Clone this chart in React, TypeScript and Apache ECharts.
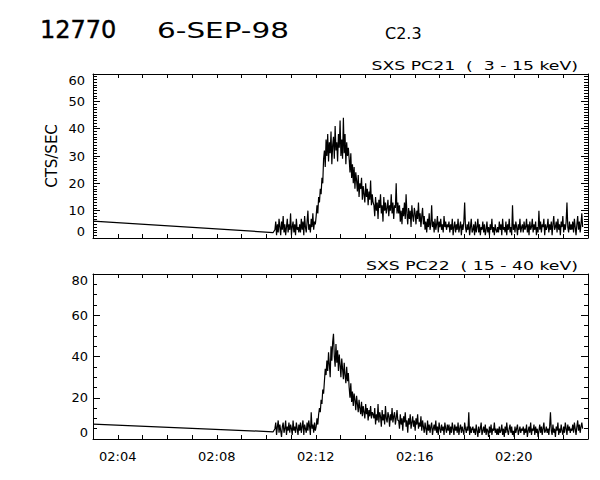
import React, { useEffect, useRef } from "react";
import * as echarts from "echarts";

// ---- texts ----
const headTitle = "12770";
const dateTitle = "6-SEP-98";
const classTitle = "C2.3";
const topPanelTitle = "SXS PC21  (  3 - 15 keV)";
const bottomPanelTitle = "SXS PC22  ( 15 - 40 keV)";
const yAxisTitle = "CTS/SEC";

// ---- time axis (minutes after 02:00) ----
const xMinMinute = 3;
const xMaxMinute = 23;
const xLabelMinutes = [4, 8, 12, 16, 20];
const xLabelTexts = ["02:04", "02:08", "02:12", "02:16", "02:20"];

// ---- y axes ----
const topYMax = 60;
const topYStep = 10;
const bottomYMax = 80;
const bottomYStep = 20;

// ---- data: leading points (before data gap) ----
const leadTimes = [3.0, 10.28];
const pc21Lead = [6.2, 2.0];
const pc22Lead = [7.2, 3.5];

// ---- sampled data: start minute and cadence (2 s, in minutes) ----
const sampleStart = 10.35;
const sampleStep = 2 / 60;

// SXS PC21 (3 - 15 keV), counts/s, one row per minute
const pc21 = [
  3, 6, 1, 5, 2, 7, 4, 1, 6, 3, 8, 2, 5, 1, 4, 7, 2, 5, 3, 9, 1, 4, 6, 2, 5, 1, 7, 3, 4, 2,
  5, 2, 7, 3, 6, 1, 8, 4, 2, 6, 10, 3, 5, 2, 7, 4, 9, 3, 6, 5, 8, 12, 9, 15, 13, 18, 16, 22, 20, 29,
  32, 26, 36, 30, 38, 28, 35, 31, 39, 27, 34, 37, 29, 41, 32, 35, 28, 38, 33, 43, 30, 36, 29, 44, 31, 38, 27, 35, 30, 33,
  29, 24, 31, 22, 27, 20, 26, 18, 24, 21, 17, 23, 15, 20, 18, 22, 14, 19, 16, 13, 20, 15, 18, 12, 17, 14, 21, 12, 16, 13,
  12, 8, 15, 10, 13, 7, 14, 11, 16, 9, 12, 6, 15, 10, 13, 9, 11, 14, 8, 12, 10, 16, 9, 13, 7, 12, 11, 20, 9, 13,
  9, 12, 6, 10, 5, 11, 8, 13, 7, 16, 9, 5, 11, 7, 10, 4, 12, 8, 6, 11, 9, 5, 10, 7, 13, 6, 9, 4, 8, 11,
  5, 8, 3, 6, 2, 7, 4, 9, 3, 5, 12, 4, 6, 2, 7, 3, 5, 8, 2, 6, 4, 7, 3, 5, 2, 8, 4, 6, 3, 5,
  4, 6, 2, 5, 3, 7, 1, 4, 6, 2, 5, 3, 7, 2, 4, 6, 1, 5, 3, 6, 13, 4, 2, 5, 3, 6, 1, 4, 7, 2,
  3, 5, 1, 6, 2, 4, 7, 2, 5, 1, 4, 3, 6, 2, 5, 1, 3, 6, 2, 4, 1, 5, 3, 7, 2, 4, 1, 5, 3, 2,
  4, 2, 6, 3, 5, 1, 7, 3, 4, 2, 6, 1, 5, 3, 7, 2, 4, 1, 12, 3, 5, 2, 6, 4, 1, 5, 3, 7, 2, 4,
  5, 2, 6, 3, 4, 7, 2, 5, 1, 6, 3, 4, 7, 2, 5, 3, 6, 1, 4, 2, 10, 3, 6, 2, 5, 4, 7, 1, 5, 3,
  4, 7, 2, 5, 3, 6, 1, 5, 8, 3, 4, 6, 2, 7, 3, 5, 1, 6, 4, 8, 2, 5, 3, 6, 13, 4, 2, 6, 3, 5,
  3, 6, 2, 7, 4, 1, 5, 8, 3, 6, 2, 5, 9, 4,
];

// SXS PC22 (15 - 40 keV), counts/s, one row per minute
const pc22 = [
  5, 8, 2, 6, 9, 3, 7, 4, 1, 6, 8, 3, 5, 9, 2, 6, 4, 8, 3, 7, 5, 2, 9, 4, 6, 3, 8, 5, 2, 7,
  4, 8, 3, 6, 9, 2, 7, 5, 3, 8, 4, 9, 6, 2, 13, 5, 7, 3, 8, 4, 6, 10, 7, 12, 15, 13, 19, 17, 24, 22,
  28, 34, 31, 38, 33, 42, 36, 30, 45, 38, 47, 51, 40, 35, 46, 37, 43, 33, 41, 36, 30, 39, 34, 29, 37, 31, 27, 35, 28, 32,
  25, 20, 27, 18, 23, 16, 22, 19, 14, 21, 17, 13, 19, 15, 12, 18, 11, 16, 13, 10, 17, 12, 15, 9, 14, 11, 16, 10, 13, 12,
  10, 15, 7, 12, 9, 17, 8, 13, 11, 6, 14, 9, 12, 7, 16, 10, 8, 13, 11, 6, 12, 9, 15, 8, 11, 13, 7, 10, 14, 9,
  9, 5, 12, 7, 10, 4, 11, 8, 13, 6, 9, 3, 10, 7, 12, 5, 8, 11, 6, 9, 4, 10, 7, 12, 5, 8, 6, 11, 4, 9,
  6, 3, 8, 5, 2, 9, 4, 7, 3, 6, 8, 2, 5, 7, 4, 9, 3, 6, 2, 8, 5, 3, 7, 4, 6, 2, 8, 5, 3, 7,
  4, 7, 2, 6, 3, 8, 5, 2, 7, 4, 6, 3, 8, 2, 5, 7, 3, 6, 4, 2, 8, 5, 3, 6, 4, 13, 2, 6, 3, 5,
  6, 3, 5, 2, 7, 4, 1, 6, 3, 5, 8, 2, 4, 6, 3, 7, 2, 5, 4, 1, 6, 3, 7, 2, 5, 4, 8, 3, 5, 2,
  5, 2, 6, 3, 4, 7, 2, 5, 1, 6, 3, 8, 4, 2, 5, 7, 3, 6, 2, 4, 1, 6, 3, 5, 7, 2, 4, 6, 3, 5,
  4, 6, 2, 5, 3, 7, 1, 4, 6, 3, 8, 2, 5, 4, 7, 2, 6, 3, 5, 1, 4, 7, 3, 6, 2, 5, 8, 3, 4, 6,
  3, 5, 2, 6, 13, 4, 2, 7, 3, 5, 1, 6, 4, 8, 2, 5, 3, 7, 4, 2, 6, 3, 8, 5, 2, 7, 4, 6, 3, 5,
  4, 7, 3, 8, 5, 2, 6, 9, 4, 7, 3, 6, 8, 5,
];

const FONT = "DejaVu Sans";
const INK = "#000000";

function buildSeries(lead: number[], values: number[]): number[][] {
  const out: number[][] = leadTimes.map((t, i) => [t, lead[i]]);
  values.forEach((v, i) => out.push([sampleStart + i * sampleStep, v]));
  return out;
}

function xAxisDef(gridIndex: number, position: "top" | "bottom", labels: boolean) {
  return {
    type: "value",
    gridIndex,
    position,
    min: xMinMinute,
    max: xMaxMinute,
    interval: 1,
    axisLine: { show: true, onZero: false, lineStyle: { color: INK, width: 1 } },
    axisTick: { show: true, inside: true, length: 4, lineStyle: { color: INK, width: 1 } },
    splitLine: { show: false },
    axisLabel: {
      show: labels,
      margin: 11,
      fontFamily: FONT,
      fontSize: 13,
      color: INK,
      formatter: (v: number) => {
        const k = xLabelMinutes.findIndex((m) => Math.abs(m - v) < 1e-6);
        return k >= 0 ? xLabelTexts[k] : "";
      },
    },
  };
}

function yAxisDef(
  gridIndex: number,
  position: "left" | "right",
  max: number,
  step: number,
  minorSplit: number,
  labels: boolean,
  margin: number
) {
  return {
    type: "value",
    gridIndex,
    position,
    min: 0,
    max,
    interval: step,
    axisLine: { show: true, onZero: false, lineStyle: { color: INK, width: 1 } },
    axisTick: { show: true, inside: true, length: 7, lineStyle: { color: INK, width: 1 } },
    minorTick: { show: true, splitNumber: minorSplit, length: 4, lineStyle: { color: INK, width: 1 } },
    splitLine: { show: false },
    minorSplitLine: { show: false },
    axisLabel: {
      show: labels,
      margin,
      fontFamily: FONT,
      fontSize: 13,
      color: INK,
      verticalAlignMinLabel: "bottom",
      verticalAlignMaxLabel: "top",
    },
  };
}

export default function App() {
  const ref = useRef<HTMLDivElement>(null);

  useEffect(() => {
    if (!ref.current) return;
    const chart = echarts.init(ref.current, undefined, { renderer: "svg" });

    const option: any = {
      animation: false,
      backgroundColor: "#ffffff",
      grid: [
        { left: 93, right: 12, top: 74, height: 164 },
        { left: 93, right: 12, top: 274, height: 165 },
      ],
      xAxis: [
        xAxisDef(0, "bottom", false),
        xAxisDef(0, "top", false),
        xAxisDef(1, "bottom", true),
        xAxisDef(1, "top", false),
      ],
      yAxis: [
        yAxisDef(0, "left", topYMax, topYStep, 10, true, 8),
        yAxisDef(0, "right", topYMax, topYStep, 10, false, 8),
        yAxisDef(1, "left", bottomYMax, bottomYStep, 4, true, 5),
        yAxisDef(1, "right", bottomYMax, bottomYStep, 4, false, 5),
      ],
      series: [
        {
          type: "line",
          xAxisIndex: 0,
          yAxisIndex: 0,
          data: buildSeries(pc21Lead, pc21),
          showSymbol: false,
          symbol: "none",
          silent: true,
          lineStyle: { color: INK, width: 1.2 },
        },
        {
          type: "line",
          xAxisIndex: 2,
          yAxisIndex: 2,
          data: buildSeries(pc22Lead, pc22),
          showSymbol: false,
          symbol: "none",
          silent: true,
          lineStyle: { color: INK, width: 1.2 },
        },
      ],
      graphic: [
        {
          type: "text",
          x: 40,
          y: 30,
          style: { text: headTitle, fill: INK, stroke: INK, lineWidth: 0.4, font: `24px '${FONT}'`, textAlign: "left", textVerticalAlign: "middle" },
        },
        {
          type: "text",
          x: 157,
          y: 30,
          scaleX: 1.34,
          style: { text: dateTitle, fill: INK, font: `22px '${FONT}'`, textAlign: "left", textVerticalAlign: "middle" },
        },
        {
          type: "text",
          x: 385,
          y: 33,
          style: { text: classTitle, fill: INK, font: `16px '${FONT}'`, textAlign: "left", textVerticalAlign: "middle" },
        },
        {
          type: "text",
          x: 578,
          y: 66,
          scaleX: 1.44,
          style: { text: topPanelTitle, fill: INK, font: `12px '${FONT}'`, textAlign: "right", textVerticalAlign: "middle" },
        },
        {
          type: "text",
          x: 578,
          y: 266,
          scaleX: 1.44,
          style: { text: bottomPanelTitle, fill: INK, font: `12px '${FONT}'`, textAlign: "right", textVerticalAlign: "middle" },
        },
        {
          type: "text",
          x: 52,
          y: 156,
          rotation: Math.PI / 2,
          style: { text: yAxisTitle, fill: INK, font: `15px '${FONT}'`, textAlign: "center", textVerticalAlign: "middle" },
        },
      ],
    };

    chart.setOption(option);
    return () => chart.dispose();
  }, []);

  return (
    <div
      ref={ref}
      style={{ position: "absolute", left: 0, top: 0, width: 600, height: 480, background: "#fff" }}
    />
  );
}
